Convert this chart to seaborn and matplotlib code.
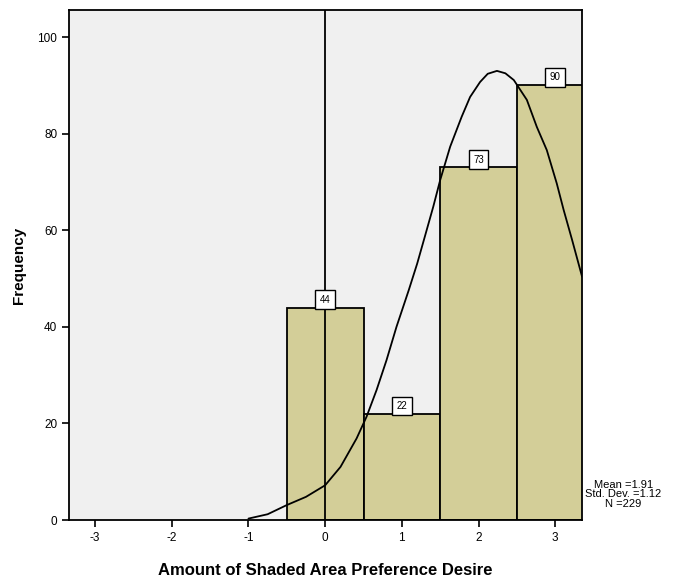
import matplotlib
matplotlib.use("Agg")
import matplotlib.pyplot as plt
import seaborn as sns
import pandas as pd

# ---- data ----
categories = [0, 1, 2, 3]
frequencies = [44, 22, 73, 90]
x_ticks = [-3, -2, -1, 0, 1, 2, 3]
x_tick_labels = ["-3", "-2", "-1", "0", "1", "2", "3"]
y_ticks = [0, 20, 40, 60, 80, 100]
# normal curve points
curve_x = [-1.0, -0.75, -0.5, -0.25, 0.0, 0.2, 0.41, 0.54, 0.67, 0.80, 0.93, 1.09, 1.20,
           1.30, 1.41, 1.50, 1.63, 1.78, 1.89, 2.02, 2.12, 2.24, 2.35, 2.46, 2.63, 2.76,
           2.89, 3.02, 3.11, 3.22, 3.35]
curve_y = [0.3, 1.2, 3.1, 4.8, 7.2, 11.0, 16.9, 21.4, 26.9, 33.1, 40.0, 47.6, 53.1,
           58.7, 64.9, 70.4, 77.3, 83.5, 87.6, 90.7, 92.4, 93.0, 92.5, 91.1, 87.0, 81.4,
           76.6, 69.7, 64.2, 58.0, 50.4]
stats_text = "Mean =1.91\nStd. Dev. =1.12\nN =229"
x_label = "Amount of Shaded Area Preference Desire"
y_label = "Frequency"

sns.set_theme(style="white")
plt.rcParams["font.family"] = ["Liberation Sans", "DejaVu Sans"]
plt.rcParams["text.color"] = "black"
plt.rcParams["axes.labelcolor"] = "black"

fig = plt.figure(figsize=(6.98, 5.8), dpi=100)
ax = fig.add_axes([0.0989, 0.1034, 0.7350, 0.8793])
ax.set_facecolor("#F0F0F0")

df = pd.DataFrame({"value": categories, "freq": frequencies})
sns.histplot(data=df, x="value", weights="freq", discrete=True, ax=ax,
             color="#D3CE98", edgecolor="black", linewidth=1.3, alpha=1.0)

curve_df = pd.DataFrame({"x": curve_x, "y": curve_y})
sns.lineplot(data=curve_df, x="x", y="y", ax=ax, color="black", linewidth=1.3,
             sort=True, estimator=None)

ax.axvline(0, color="black", linewidth=1.3, zorder=4)

for c, f in zip(categories, frequencies):
    ax.text(c, f + 0.6, str(f), ha="center", va="bottom", fontsize=7,
            bbox=dict(boxstyle="square,pad=0.45", facecolor="white",
                      edgecolor="black", linewidth=1.0), zorder=6)

ax.set_xlim(-3.34, 3.35)
ax.set_ylim(0, 105.6)
ax.set_xticks(x_ticks)
ax.set_xticklabels(x_tick_labels)
ax.set_yticks(y_ticks)
ax.tick_params(axis="both", which="both", direction="out", length=5, width=1.2,
               labelsize=8.5, left=True, bottom=True, colors="black")
for s in ax.spines.values():
    s.set_visible(True)
    s.set_color("black")
    s.set_linewidth(1.3)

ax.set_xlabel(x_label, fontsize=12, fontweight="bold", labelpad=14, color="black")
ax.set_ylabel(y_label, fontsize=11, fontweight="bold", labelpad=8, color="black")

fig.text(0.893, 0.148, stats_text, ha="center", va="center", fontsize=8,
         linespacing=0.95, color="black")

fig.savefig("out.png", dpi=100, facecolor="white")
